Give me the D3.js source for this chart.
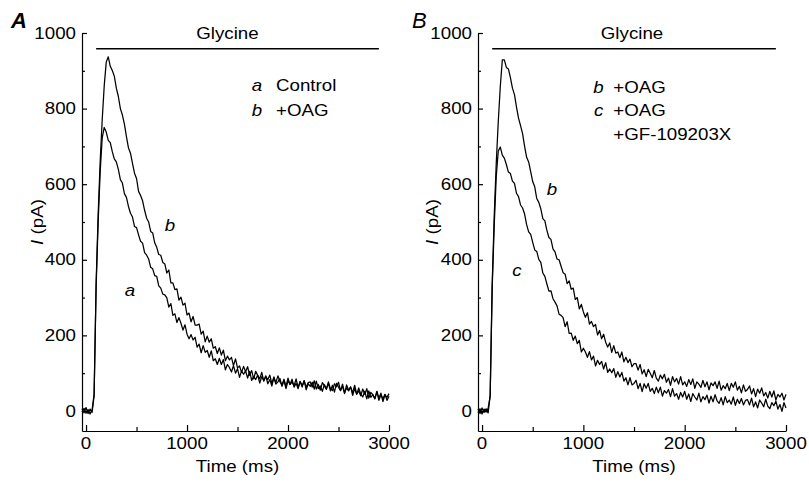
<!DOCTYPE html>
<html><head><meta charset="utf-8">
<script src="https://cdn.jsdelivr.net/npm/d3@7/dist/d3.min.js"></script>
<style>body{margin:0;background:#fff}svg{display:block}</style>
</head><body>
<svg id="chart" width="809" height="486"></svg>
<script>
// Sampling clock of the recordings (ms)
const sampleStartMs = -40, sampleStepMs = 20;

// Panel A, trace a: Control (pA)
const traceA_control = [
  6,-5,9,-7,5,-4,40,330,500,632,
  722,750,738,716,710,686,667,659,639,612,
  603,575,565,541,523,513,488,485,466,449,
  444,419,412,402,380,376,358,356,331,325,
  309,307,299,275,284,253,257,234,247,232,
  214,228,203,191,202,188,195,169,177,154,
  173,155,160,142,159,133,138,123,139,123,
  136,109,123,115,103,120,100,112,89,106,
  97,106,87,105,81,91,83,95,74,91,
  80,93,72,83,66,88,71,77,86,65,
  80,59,80,70,84,63,73,59,78,63,
  80,56,72,65,76,58,79,59,66,52,
  70,59,73,53,68,50,73,63,54,71,
  48,61,53,64,41,59,44,61,45,37,
  52,32,53,36,43,32,51,28,43,32,
  44,28,39
];
// Panel A, trace b: +OAG (pA)
const traceA_oag = [
  -3,7,-6,4,-8,3,45,340,520,660,
  770,860,923,937,912,901,886,854,832,800,
  783,759,726,696,682,655,629,615,581,570,
  556,531,510,500,475,471,445,433,414,412,
  393,389,365,373,339,339,321,323,293,301,
  280,285,254,259,236,250,227,227,230,203,
  211,183,198,182,191,166,170,152,167,148,
  161,133,145,135,142,120,138,114,119,102,
  118,104,117,94,107,85,105,94,85,102,
  79,91,83,95,72,90,75,93,77,69,
  84,65,87,70,77,66,85,62,78,67,
  80,63,75,77,63,80,58,70,55,75,
  67,57,77,59,54,72,64,76,54,65,
  46,69,55,63,48,68,45,53,40,58,
  44,59,34,49,43,33,52,34,47,25,
  43,36,46
];
// Panel B, trace b: +OAG (pA)
const traceB_oag = [
  5,-7,8,-4,6,-5,42,335,515,655,
  765,858,929,929,909,905,882,854,837,804,
  775,755,734,700,671,659,633,607,593,562,
  552,535,509,503,478,459,454,429,421,402,
  400,383,366,362,337,344,322,325,295,300,
  270,282,262,248,260,230,237,223,229,201,
  213,191,203,182,169,180,155,173,153,156,
  141,156,130,142,128,137,117,125,125,108,
  123,98,109,91,110,100,88,107,87,79,
  95,85,97,76,87,68,91,77,86,71,
  91,69,77,65,83,70,85,60,77,71,
  62,81,64,77,56,74,67,77,60,79,
  55,67,59,73,54,73,63,77,55,65,
  48,69,52,57,66,45,59,38,58,47,
  61,40,49,34,52,37,53,29,44,37,
  47,29,44
];
// Panel B, trace c: +OAG +GF-109203X (pA)
const traceB_gf = [
  -4,6,-8,5,-3,7,38,325,490,620,
  688,698,677,669,652,632,628,608,602,576,
  567,545,537,521,493,474,467,446,426,422,
  401,393,365,356,336,317,318,297,288,278,
  256,253,247,223,236,205,206,187,198,178,
  187,156,166,156,142,157,135,145,119,134,
  123,131,111,128,102,111,101,112,89,104,
  90,102,79,88,69,88,69,73,81,59,
  73,51,72,60,73,52,60,46,63,48,
  63,39,54,47,57,38,59,39,46,31,
  49,37,52,31,45,25,46,37,29,47,
  24,38,30,42,21,39,24,43,27,20,
  35,16,38,22,29,18,37,15,31,20,
  33,16,28,30,16,34,11,24,8,29,
  21,11,31,13,6,22,14,26,5,17,
  -1,22,8
];

const xTickValues = [0, 1000, 2000, 3000];
const xMinorTicks = [500, 1500, 2500];
const yTickValues = [0, 200, 400, 600, 800, 1000];
const yMinorTicks = [100, 300, 500, 700, 900];
const glycineWindow = [100, 2900];

const panels = [
  {
    letter: "A", letterWeight: "bold", letterPos: [11, 20],
    xRange: [82, 389],
    glycineLabelT: 1400,
    yLabelX: 37,
    traces: [
      { values: traceA_oag, tag: "b", tagAt: [832, 492] },
      { values: traceA_control, tag: "a", tagAt: [436, 320] }
    ],
    legend: [
      { tag: "a", text: "Control" },
      { tag: "b", text: "+OAG" }
    ],
    legendT: [1693, 1881],
    legendV: [862, 796]
  },
  {
    letter: "B", letterWeight: "normal", letterPos: [412, 20],
    xRange: [478, 786],
    glycineLabelT: 1480,
    yLabelX: 432,
    traces: [
      { values: traceB_oag, tag: "b", tagAt: [691, 585] },
      { values: traceB_gf, tag: "c", tagAt: [345, 373] }
    ],
    legend: [
      { tag: "b", text: "+OAG" },
      { tag: "c", text: "+OAG" },
      { tag: "", text: "+GF-109203X" }
    ],
    legendT: [1150, 1295],
    legendV: [856, 796, 733]
  }
];

const FONT = "'Liberation Sans', Arial, Helvetica, sans-serif";
const FS = 16, SX = 1.17;
const svg = d3.select("#chart");
svg.append("rect").attr("width", 809).attr("height", 486).attr("fill", "#fff");

function stretchText(g, x, y, str, anchor, opts = {}) {
  return g.append("text")
    .attr("transform", `translate(${x},${y}) scale(${SX},1)`)
    .attr("text-anchor", anchor || "start")
    .attr("dy", "0.35em")
    .attr("font-family", FONT)
    .attr("font-size", opts.size || FS)
    .attr("font-style", opts.italic ? "italic" : "normal")
    .attr("font-weight", opts.weight || "normal")
    .attr("fill", "#000")
    .text(str);
}

panels.forEach(p => {
  const g = svg.append("g");
  const x = d3.scaleLinear().domain([sampleStartMs, 3000]).range(p.xRange);
  const y = d3.scaleLinear().domain([-53, 1000]).range([431, 33]);

  // axes, ticks pointing inward
  const yAxis = d3.axisLeft(y).tickValues(yTickValues).tickSizeInner(-5).tickSizeOuter(0).tickFormat("");
  const yMinor = d3.axisLeft(y).tickValues(yMinorTicks).tickSizeInner(-3).tickSizeOuter(0).tickFormat("");
  const xAxis = d3.axisBottom(x).tickValues(xTickValues).tickSizeInner(-6).tickSizeOuter(0).tickFormat("");
  const xMinor = d3.axisBottom(x).tickValues(xMinorTicks).tickSizeInner(-4).tickSizeOuter(0).tickFormat("");

  g.append("g").attr("transform", `translate(${p.xRange[0]},0)`).call(yAxis);
  g.append("g").attr("transform", `translate(${p.xRange[0]},0)`).call(yMinor).select(".domain").remove();
  g.append("g").attr("transform", `translate(0,431)`).call(xAxis);
  g.append("g").attr("transform", `translate(0,431)`).call(xMinor).select(".domain").remove();
  g.selectAll(".domain, .tick line").attr("stroke", "#000").attr("stroke-width", 1.2);

  yTickValues.forEach(v => stretchText(g, p.xRange[0] - 6, y(v), String(v), "end"));
  xTickValues.forEach(v => stretchText(g, x(v), 443, String(v), "middle"));

  // axis titles
  stretchText(g, x(1500), 466, "Time (ms)", "middle");
  const yl = g.append("text")
    .attr("transform", `translate(${p.yLabelX},222) rotate(-90) scale(${SX},1)`)
    .attr("text-anchor", "middle").attr("dy", "0.35em")
    .attr("font-family", FONT).attr("font-size", FS).attr("fill", "#000");
  yl.append("tspan").attr("font-style", "italic").text("I");
  yl.append("tspan").text(" (pA)");

  // panel letter
  g.append("text").attr("x", p.letterPos[0]).attr("y", p.letterPos[1]).attr("dy", "0.35em")
    .attr("font-family", FONT).attr("font-size", 22).attr("font-style", "italic")
    .attr("font-weight", p.letterWeight).text(p.letter);

  // glycine application bar
  g.append("line")
    .attr("x1", x(glycineWindow[0])).attr("x2", x(glycineWindow[1]))
    .attr("y1", y(958)).attr("y2", y(958))
    .attr("stroke", "#000").attr("stroke-width", 1.5);
  stretchText(g, x(p.glycineLabelT), y(1000), "Glycine", "middle");

  // current traces
  const line = d3.line()
    .x((d, i) => x(sampleStartMs + i * sampleStepMs))
    .y(d => y(d));
  p.traces.forEach(tr => {
    g.append("path").attr("d", line(tr.values))
      .attr("fill", "none").attr("stroke", "#000").attr("stroke-width", 1.25)
      .attr("stroke-linejoin", "round");
    stretchText(g, x(tr.tagAt[0]), y(tr.tagAt[1]), tr.tag, "middle", { italic: true });
  });

  // legend
  p.legend.forEach((L, i) => {
    if (L.tag) stretchText(g, x(p.legendT[0]), y(p.legendV[i]), L.tag, "middle", { italic: true });
    stretchText(g, x(p.legendT[1]), y(p.legendV[i]), L.text, "start");
  });
});
</script>
</body></html>
